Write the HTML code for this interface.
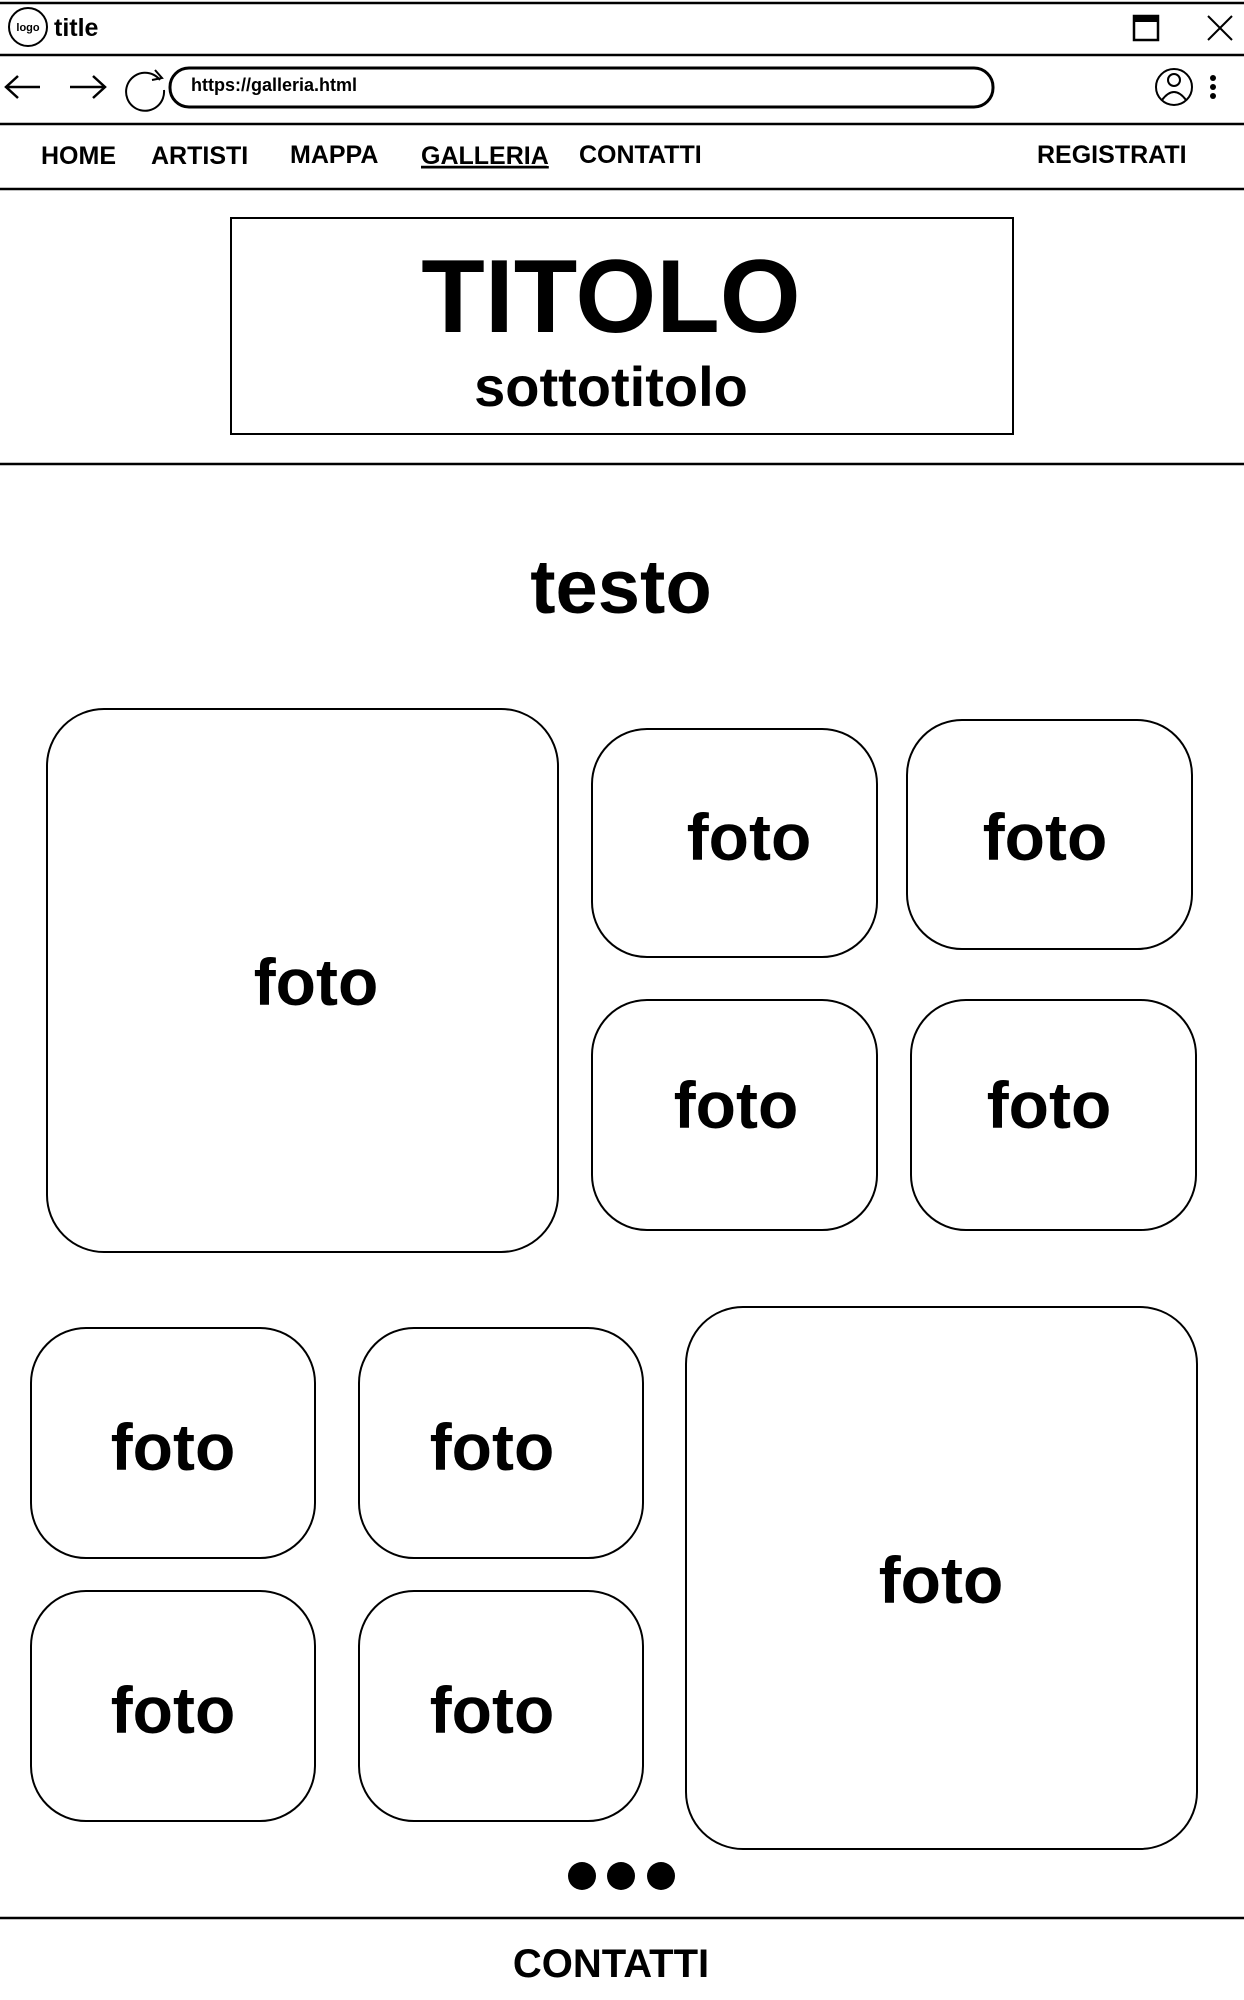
<!DOCTYPE html>
<html><head><meta charset="utf-8"><style>
html,body{margin:0;padding:0;background:#fff;}
svg{display:block;}
text{font-family:"Liberation Sans",sans-serif;font-weight:bold;fill:#000;}
</style></head><body>
<svg width="1244" height="2000" viewBox="0 0 1244 2000" xmlns="http://www.w3.org/2000/svg">
<g stroke="#000" fill="none" stroke-width="2.5">
<line x1="0" y1="3" x2="1244" y2="3"/>
<line x1="0" y1="55" x2="1244" y2="55"/>
<line x1="0" y1="124" x2="1244" y2="124"/>
<line x1="0" y1="189" x2="1244" y2="189"/>
<line x1="0" y1="464" x2="1244" y2="464"/>
<line x1="0" y1="1918" x2="1244" y2="1918"/>
<circle cx="28" cy="27" r="19" stroke-width="2"/>
<rect x="1134" y="16" width="24" height="24" stroke-width="2.5"/>
<line x1="1134" y1="19" x2="1158" y2="19" stroke-width="6"/>
<path d="M1208 16 L1232 40 M1232 16 L1208 40" stroke-width="2"/>
<path d="M6 87 H40 M18 76 L6 87 L18 98" stroke-width="2.5"/>
<path d="M70 87 H105 M93 76 L105 87 L93 98" stroke-width="2.5"/>
<path d="M160 80 A19 19 0 1 0 164 90" stroke-width="2"/>
<path d="M155 70 L162 78 L152 80" stroke-width="2"/>
<rect x="170" y="68" width="823" height="39" rx="19" stroke-width="3"/>
<circle cx="1174" cy="87" r="18" stroke-width="2"/>
<circle cx="1174" cy="80" r="6" stroke-width="2"/>
<path d="M1162 100 Q1174 84 1186 100" stroke-width="2"/>
<rect x="231" y="218" width="782" height="216" stroke-width="2"/>
<rect x="47" y="709" width="511" height="543" rx="57" stroke-width="2"/>
<rect x="592" y="729" width="285" height="228" rx="55" stroke-width="2"/>
<rect x="907" y="720" width="285" height="229" rx="55" stroke-width="2"/>
<rect x="592" y="1000" width="285" height="230" rx="55" stroke-width="2"/>
<rect x="911" y="1000" width="285" height="230" rx="55" stroke-width="2"/>
<rect x="31" y="1328" width="284" height="230" rx="55" stroke-width="2"/>
<rect x="359" y="1328" width="284" height="230" rx="55" stroke-width="2"/>
<rect x="31" y="1591" width="284" height="230" rx="55" stroke-width="2"/>
<rect x="359" y="1591" width="284" height="230" rx="55" stroke-width="2"/>
<rect x="686" y="1307" width="511" height="542" rx="57" stroke-width="2"/>
</g>
<circle cx="1213" cy="78" r="3"/><circle cx="1213" cy="87" r="3"/><circle cx="1213" cy="96" r="3"/>
<circle cx="582" cy="1876" r="14"/><circle cx="621" cy="1876" r="14"/><circle cx="661" cy="1876" r="14"/>
<text x="28" y="31" font-size="11" text-anchor="middle">logo</text>
<text x="54" y="36" font-size="25">title</text>
<text x="191" y="91" font-size="18">https://galleria.html</text>
<g font-size="25">
<text x="41" y="164">HOME</text>
<text x="151" y="164">ARTISTI</text>
<text x="290" y="163">MAPPA</text>
<text x="421" y="164" text-decoration="underline">GALLERIA</text>
<text x="579" y="163">CONTATTI</text>
<text x="1037" y="163">REGISTRATI</text>
</g>
<line x1="421" y1="167" x2="547" y2="167" stroke="#000" stroke-width="2.5"/>
<text x="611" y="332" font-size="104" text-anchor="middle">TITOLO</text>
<text x="611" y="406" font-size="56" text-anchor="middle">sottotitolo</text>
<text x="621" y="613" font-size="76" text-anchor="middle">testo</text>
<g font-size="66" text-anchor="middle">
<text x="316" y="1005">foto</text>
<text x="749" y="860">foto</text>
<text x="1045" y="860">foto</text>
<text x="736" y="1128">foto</text>
<text x="1049" y="1128">foto</text>
<text x="173" y="1470">foto</text>
<text x="492" y="1470">foto</text>
<text x="173" y="1733">foto</text>
<text x="492" y="1733">foto</text>
<text x="941" y="1603">foto</text>
</g>
<text x="611" y="1977" font-size="40" text-anchor="middle">CONTATTI</text>
</svg>
</body></html>
